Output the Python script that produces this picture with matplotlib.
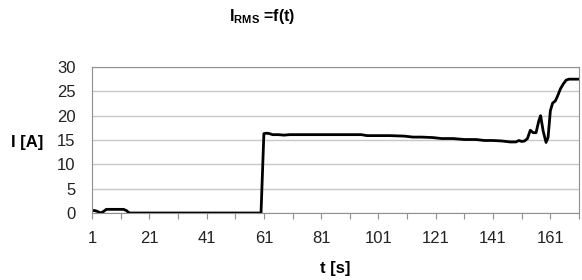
import matplotlib.pyplot as plt
import numpy as np

plt.rcParams['font.family'] = ['Liberation Sans', 'DejaVu Sans']
plt.rcParams['mathtext.fontset'] = 'custom'
plt.rcParams['mathtext.rm'] = 'Liberation Sans'
plt.rcParams['mathtext.bf'] = 'Liberation Sans:bold'

# data (t in s, I in A)
t = [1, 2, 3, 4, 5, 6, 8, 10, 12, 13, 14, 20, 40, 59, 60, 61, 62, 63, 64, 66, 68, 70,
     75, 80, 85, 90, 95, 97, 100, 105, 110, 113, 116, 120, 123, 127, 131, 135, 138,
     141, 144, 147, 149, 150, 151, 152, 153, 154, 155, 156, 157, 157.6, 158.5, 159.5,
     160.2, 161, 161.8, 162.7, 163.5, 164.5, 165.5, 166.5, 167.5, 169, 171]
I = [0.5, 0.5, 0.3, 0.0, 0.3, 0.75, 0.75, 0.75, 0.75, 0.5, 0.0, 0.0, 0.0, 0.0, 0.0,
     16.3, 16.4, 16.3, 16.1, 16.1, 16.0, 16.1, 16.1, 16.1, 16.1, 16.1, 16.1, 15.9,
     15.9, 15.9, 15.8, 15.6, 15.6, 15.5, 15.3, 15.3, 15.1, 15.1, 14.9, 14.9, 14.8,
     14.6, 14.6, 14.9, 14.7, 14.8, 15.3, 17.0, 16.5, 16.5, 19.0, 20.0, 16.8, 14.5,
     15.5, 21.0, 22.6, 23.0, 24.0, 25.5, 26.5, 27.3, 27.5, 27.5, 27.5]
x_ticks = np.arange(1, 172, 10)
y_ticks = [0, 5, 10, 15, 20, 25, 30]

fig = plt.figure(figsize=(5.82, 2.8), dpi=100)
ax = fig.add_axes([92/582, 1-213/280, (579-92)/582, (213-67)/280])

ax.plot(t, I, color='black', lw=2, solid_joinstyle='round')
ax.set_xlim(1, 171)
ax.set_ylim(0, 30)
ax.set_yticks(y_ticks)
ax.set_xticks(x_ticks)
ax.set_xticklabels([str(v) if (v - 1) % 20 == 0 else '' for v in x_ticks])
ax.grid(axis='y', color='#c8c8c8', lw=1)
ax.set_axisbelow(True)
for s in ax.spines.values():
    s.set_color('#909090')
ax.tick_params(axis='y', length=0, labelsize=12, pad=12, colors='#222222')
ax.tick_params(axis='x', length=4, labelsize=12, pad=9, colors='#909090',
               labelcolor='#222222')

fig.text(262/582, 1-16/280, r'$\mathbf{I_{RMS}}$ =f(t)', ha='center', va='center',
         fontsize=11.5, fontweight='bold')
fig.text(27/582, 1-142/280, 'I [A]', ha='center', va='center', fontsize=12,
         fontweight='bold')
fig.text(335/582, 1-268/280, 't [s]', ha='center', va='center', fontsize=12,
         fontweight='bold')

fig.savefig('out.png', dpi=100)
